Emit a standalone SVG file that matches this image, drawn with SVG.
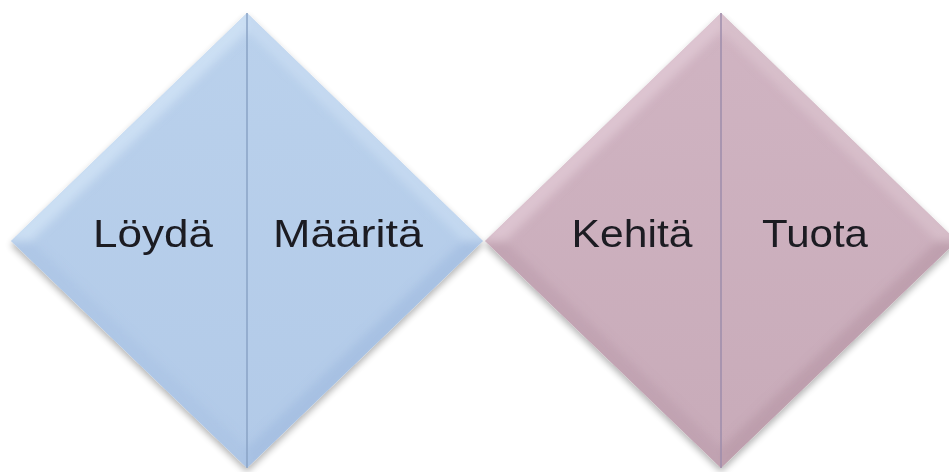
<svg xmlns="http://www.w3.org/2000/svg" width="949" height="472" viewBox="0 0 949 472">
<defs>
  <filter id="sh" x="-10%" y="-10%" width="120%" height="125%">
    <feGaussianBlur in="SourceAlpha" stdDeviation="3.5"/>
    <feOffset dx="0" dy="4" result="b"/>
    <feComponentTransfer><feFuncA type="linear" slope="0.3"/></feComponentTransfer>
    <feMerge><feMergeNode/><feMergeNode in="SourceGraphic"/></feMerge>
  </filter>
  <filter id="soft" x="-5%" y="-5%" width="110%" height="110%">
    <feGaussianBlur stdDeviation="4"/>
  </filter>
  <clipPath id="clipB"><polygon points="247,13 483,241 247,468 11,241"/></clipPath>
  <clipPath id="clipP"><polygon points="721,13 957,241 721,468 485,241"/></clipPath>
  <linearGradient id="blueG" x1="0" y1="0" x2="0" y2="1">
    <stop offset="0" stop-color="#bad1ec"/>
    <stop offset="1" stop-color="#b2cae8"/>
  </linearGradient>
  <linearGradient id="pinkG" x1="0" y1="0" x2="0" y2="1">
    <stop offset="0" stop-color="#d0b4c2"/>
    <stop offset="1" stop-color="#c8abb9"/>
  </linearGradient>
</defs>
<style>
  .lbl { font-family: "Century Gothic", "Liberation Sans", Arial, sans-serif; font-size: 39px; fill: #1a1a22; }
  .divB { stroke: #8aa3c6; stroke-width: 1.5; }
  .divP { stroke: #9c8cab; stroke-width: 1.5; }
</style>

<g id="diamond-blue" filter="url(#sh)">
  <polygon points="247,13 483,241 247,468 11,241" fill="url(#blueG)"/>
  <g clip-path="url(#clipB)">
    <g filter="url(#soft)">
      <polygon points="247,5 3,241 31,241 247,31" fill="#d4e6f7" opacity="0.7"/>
      <polygon points="247,5 491,241 463,241 247,31" fill="#cde0f4" opacity="0.6"/>
      <polygon points="491,241 247,476 247,448 463,241" fill="#9db8de" opacity="0.55"/>
      <polygon points="3,241 247,476 247,448 31,241" fill="#a7c1e3" opacity="0.55"/>
    </g>
  </g>
  <g id="node-loyda">
    <text class="lbl" x="153" y="247" text-anchor="middle" textLength="120" lengthAdjust="spacingAndGlyphs">Löydä</text>
  </g>
  <g id="node-maarita">
    <text class="lbl" x="348" y="247" text-anchor="middle" textLength="150" lengthAdjust="spacingAndGlyphs">Määritä</text>
  </g>
  <line class="divB" x1="247" y1="13" x2="247" y2="468"/>
</g>

<g id="diamond-pink" filter="url(#sh)">
  <polygon points="721,13 957,241 721,468 485,241" fill="url(#pinkG)"/>
  <g clip-path="url(#clipP)">
    <g filter="url(#soft)">
      <polygon points="721,5 477,241 505,241 721,31" fill="#e3ccd7" opacity="0.7"/>
      <polygon points="721,5 965,241 937,241 721,31" fill="#dec6d1" opacity="0.6"/>
      <polygon points="965,241 721,476 721,448 937,241" fill="#b493a3" opacity="0.55"/>
      <polygon points="477,241 721,476 721,448 505,241" fill="#ba9bab" opacity="0.55"/>
    </g>
  </g>
  <g id="node-kehita">
    <text class="lbl" x="632" y="247" text-anchor="middle" textLength="121" lengthAdjust="spacingAndGlyphs">Kehitä</text>
  </g>
  <g id="node-tuota">
    <text class="lbl" x="815" y="247" text-anchor="middle" textLength="106" lengthAdjust="spacingAndGlyphs">Tuota</text>
  </g>
  <line class="divP" x1="721" y1="13" x2="721" y2="468"/>
</g>

<g id="connectors"></g>
</svg>
